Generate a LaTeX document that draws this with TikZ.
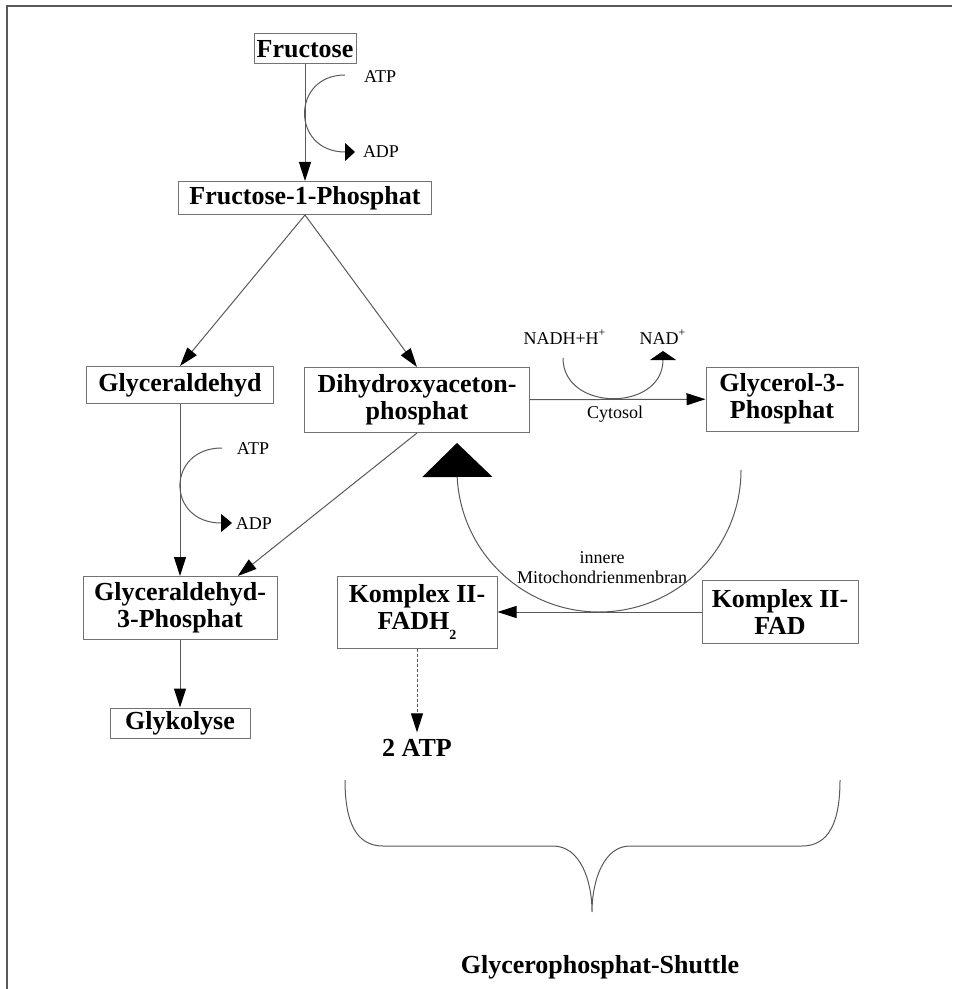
\documentclass[tikz,border=0pt]{standalone}
\usepackage{fontspec}
\setmainfont{Liberation Serif}
\usetikzlibrary{arrows.meta}
\definecolor{linegray}{gray}{0.35}
\definecolor{boxgray}{gray}{0.45}

\begin{document}
\begin{tikzpicture}[x=0.5pt,y=-0.5pt,
    box/.style={draw=boxgray,line width=0.5pt,inner sep=0pt,align=center,
      font=\fontsize{13}{13.5}\selectfont\bfseries},
    bold/.style={font=\fontsize{13}{13.5}\selectfont\bfseries},
    small/.style={inner sep=0pt,align=center,font=\fontsize{9}{10}\selectfont},
    conn/.style={draw=linegray,line width=0.5pt},
    >={Triangle[length=9.5pt,width=6pt,color=black]}]
  \useasboundingbox (0,0) rectangle (952,989);
  \draw[line width=1pt,black!65] (7,989) -- (7,6.5) -- (952,6.5);

  % Fructose branch
  \node[box,minimum width=51pt,minimum height=15pt] (F) at (305,49) {Fructose};
  \node[box,minimum width=126.5pt,minimum height=16.5pt] (F1P) at (305,198) {Fructose-1-Phosphat};
  \node[box,minimum width=93.5pt,minimum height=18.5pt] (GA) at (180,385) {Glyceraldehyd};
  \node[box,minimum width=112.5pt,minimum height=32.5pt] (DHAP) at (417,400) {Dihydroxyaceton-\\phosphat};
  \node[box,minimum width=76pt,minimum height=32pt] (G3P) at (782,399) {Glycerol-3-\\Phosphat};
  \node[box,minimum width=97pt,minimum height=31.5pt] (GAP) at (180,608) {Glyceraldehyd-\\3-Phosphat};
  \node[box,minimum width=70pt,minimum height=15pt] (GLY) at (180,723) {Glykolyse};
  \node[box,minimum width=80pt,minimum height=36pt] (K2H) at (417,612) {Komplex II-\\FADH\raisebox{-5pt}{\fontsize{7}{7}\selectfont 2}};
  \node[box,minimum width=78pt,minimum height=31.5pt] (K2) at (780,612) {Komplex II-\\FAD};
  \node[bold] (ATP) at (417,748) {2 ATP};
  \node[bold] (T) at (600,967) {Glycerophosphat-Shuttle};

  % small labels
  \node[small] (ATP1) at (380,77) {ATP};
  \node[small] (ADP1) at (381,152) {ADP};
  \node[small] (ATP3) at (253,449) {ATP};
  \node[small] (ADP3) at (254,524) {ADP};
  \node[small] (NADH) at (565,337) {NADH+H\textsuperscript{+}};
  \node[small] (NAD) at (663,337) {NAD\textsuperscript{+}};
  \node[small] (C) at (615,414) {Cytosol};
  \node[small] (MM) at (602,568) {innere\\Mitochondrienmenbran};

  \coordinate (A1) at (345,75);
  \coordinate (A2) at (355,152);
  \coordinate (A3) at (222,448);
  \coordinate (A4) at (232,523);
  \coordinate (N1) at (563,358);
  \coordinate (N2) at (663,351);
  \coordinate (M1) at (741,470);
  \coordinate (M2) at (457,443);
  \coordinate (B1) at (345,780);
  \coordinate (B2) at (840,780);

  \draw[conn,->] (F) to (F1P);
  \draw[conn,->] (F1P.south) to (GA.north);
  \draw[conn,->] (F1P.south) to (DHAP.north);
  \draw[conn,->] (GA) to (GAP);
  \draw[conn,->] (DHAP.south) to (GAP.29);
  \draw[conn,->] (GAP) to (GLY);
  \draw[conn,->] (DHAP) to (G3P);
  \draw[conn,->] (K2) to (K2H);
  \draw[conn,->,dash pattern=on 1.5pt off 1pt] (K2H) to (ATP);

  \draw[conn,-{Triangle[length=5pt,width=9pt,color=black]}]
    (A1) .. controls (291,75) and (291,152) .. (A2);
  \draw[conn,-{Triangle[length=5.5pt,width=9pt,color=black]}]
    (A3) .. controls (166,448) and (166,523) .. (A4);
  \draw[conn,-{Triangle[length=4.5pt,width=13pt,color=black]}]
    (N1) .. controls (563,412) and (663,412) .. (N2);
  \draw[conn,-{Triangle[length=17pt,width=35pt,color=black]}]
    (M1) arc[start angle=0,end angle=177,radius=142] -- (M2);

  % brace
  \draw[conn] (B1) .. controls (345,822) and (356,846) .. (383,846) -- (553,846)
    .. controls (580,846) and (592,880) .. (592,912)
    .. controls (592,880) and (604,846) .. (630,846) -- (802,846)
    .. controls (829,846) and (840,822) .. (B2);
\end{tikzpicture}
\end{document}
